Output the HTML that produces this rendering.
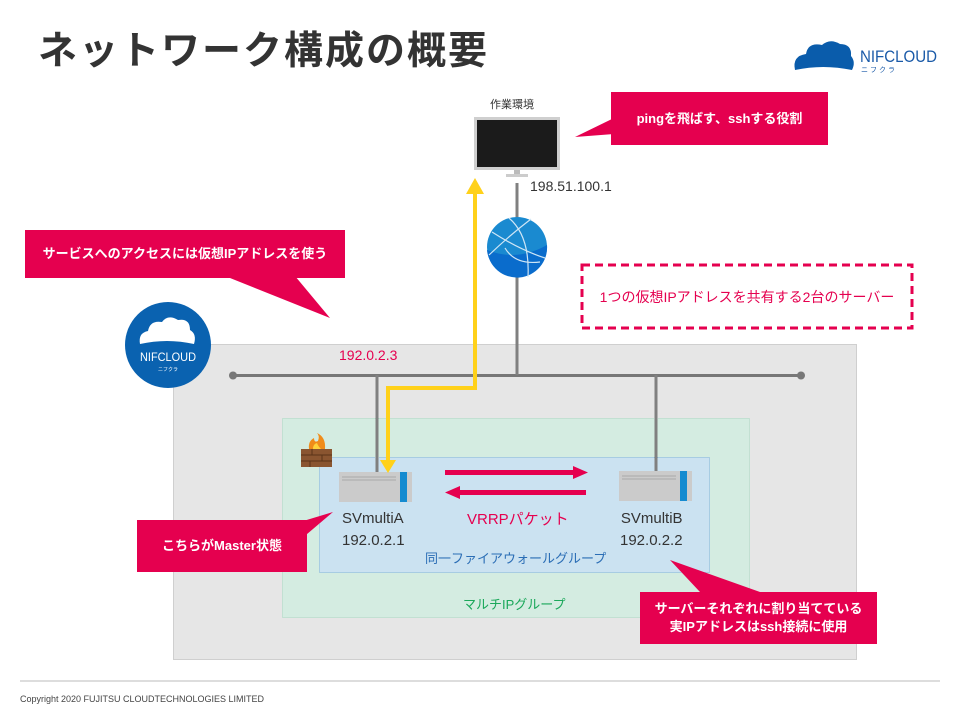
<!DOCTYPE html>
<html><head><meta charset="utf-8"><style>
body{margin:0;width:960px;height:720px;background:#fff;overflow:hidden;font-family:"Liberation Sans","Noto Sans CJK JP",sans-serif;position:relative}
.a{position:absolute}
.cb{position:absolute;background:#e5004f;color:#fff;font-weight:bold;font-size:13px;display:flex;align-items:center;justify-content:center;text-align:center;line-height:18px}
</style></head><body>
<div class="a" style="left:38px;top:20px;font-size:39px;font-weight:bold;color:#333;letter-spacing:2px">ネットワーク構成の概要</div>

<svg class="a" style="left:0;top:0" width="960" height="720">
<path d="M795 70 Q792 56 806 54 Q808 42 822 45 Q830 38 840 44 Q852 44 851 56 Q856 62 852 70 Q823 64 795 70Z" fill="#0a5cab"/>
<text x="860" y="62" font-family="Liberation Sans,sans-serif" font-size="17" fill="#1a5aa8" textLength="77" lengthAdjust="spacingAndGlyphs">NIFCLOUD</text>
<text x="861" y="72" font-family="Noto Sans CJK JP,sans-serif" font-size="7" fill="#1a5aa8" letter-spacing="2">ニフクラ</text>

<rect x="173.5" y="344.5" width="683" height="315" fill="#e6e6e6" stroke="#cfcfcf"/>
<rect x="282.5" y="418.5" width="467" height="199" fill="#d4ece1" stroke="#a8d8c0" stroke-dasharray="1 1"/>
<rect x="319.5" y="457.5" width="390" height="115" fill="#cbe2f1" stroke="#7fb0dc" stroke-dasharray="1 1"/>

<circle cx="168" cy="345" r="43" fill="#0a62b0"/>
<path d="M140 344 Q138 333 148 331 Q150 320 162 322 Q168 314 178 320 Q190 318 190 330 Q197 334 194 344 Q167 338 140 344Z" fill="#fff"/>
<text x="168" y="361" text-anchor="middle" font-size="12" fill="#fff" font-family="Liberation Sans,sans-serif" textLength="56" lengthAdjust="spacingAndGlyphs">NIFCLOUD</text>
<text x="168" y="371" text-anchor="middle" font-size="5" fill="#fff" font-family="Noto Sans CJK JP,sans-serif">ニフクラ</text>

<line x1="233" y1="375.5" x2="801" y2="375.5" stroke="#777" stroke-width="3"/>
<circle cx="233" cy="375.5" r="4" fill="#777"/><circle cx="801" cy="375.5" r="4" fill="#777"/>
<line x1="517" y1="183" x2="517" y2="375" stroke="#808080" stroke-width="3"/>
<line x1="377" y1="375" x2="377" y2="472" stroke="#808080" stroke-width="3"/>
<line x1="656" y1="375" x2="656" y2="472" stroke="#808080" stroke-width="3"/>

<circle cx="517" cy="247" r="30" fill="#1a8ad0"/>
<path d="M487 250 Q517 262 547 245 A30 30 0 0 1 487 250Z" fill="#0a6ccc"/>
<g stroke="#cfe6f6" stroke-width="1.2" fill="none">
<path d="M489 255 Q510 235 531 219"/><path d="M509 218 Q530 236 528 277"/><path d="M492 232 Q520 250 545 258"/><path d="M505 248 Q515 265 540 262"/>
</g>

<rect x="474" y="117" width="86" height="53" fill="#cfcfcf"/>
<rect x="477" y="120" width="80" height="47" fill="#1b1b1b"/>
<rect x="514" y="170" width="6" height="5" fill="#bbb"/><rect x="506" y="174" width="22" height="3" fill="#ccc"/>

<rect x="339" y="472" width="73" height="30" fill="#cbcbcb"/>
<rect x="400" y="472" width="7" height="30" fill="#158bd0"/>
<line x1="342" y1="477" x2="396" y2="477" stroke="#aaa"/><line x1="342" y1="480" x2="396" y2="480" stroke="#aaa"/>
<rect x="619" y="471" width="73" height="30" fill="#cbcbcb"/>
<rect x="680" y="471" width="7" height="30" fill="#158bd0"/>
<line x1="622" y1="476" x2="676" y2="476" stroke="#aaa"/><line x1="622" y1="479" x2="676" y2="479" stroke="#aaa"/>

<rect x="301" y="449" width="31" height="18" fill="#8a5530"/>
<g stroke="#5a3318" stroke-width="1"><line x1="301" y1="455" x2="332" y2="455"/><line x1="301" y1="461" x2="332" y2="461"/><line x1="312" y1="449" x2="312" y2="455"/><line x1="322" y1="455" x2="322" y2="461"/><line x1="310" y1="461" x2="310" y2="467"/></g>
<path d="M309 449 Q308 441 314 438 Q314 443 318 441 Q320 436 317 433 Q326 437 325 449Z" fill="#f08c1a"/>
<path d="M313 449 Q313 444 317 443 Q318 446 321 449Z" fill="#ffd23a"/>

<polyline points="475,192 475,388 388,388 388,462" fill="none" stroke="#ffd11a" stroke-width="4"/>
<polygon points="466,194 484,194 475,178" fill="#ffd11a"/>
<polygon points="380,460 396,460 388,473" fill="#ffd11a"/>

<rect x="445" y="470" width="130" height="5" fill="#e5004f"/><polygon points="573,466 588,472.5 573,479" fill="#e5004f"/>
<rect x="458" y="490" width="128" height="5" fill="#e5004f"/><polygon points="460,486 445,492.5 460,499" fill="#e5004f"/>

<polygon points="614,118 614,134 575,137" fill="#e5004f"/>
<polygon points="210,270 290,270 330,318" fill="#e5004f"/>
<polygon points="300,522 300,540 333,512" fill="#e5004f"/>
<polygon points="670,560 700,592 760,592" fill="#e5004f"/>

<rect x="582" y="265" width="330" height="63" fill="#fff" stroke="#e5004f" stroke-width="3" stroke-dasharray="8 5"/>

<line x1="20" y1="681" x2="940" y2="681" stroke="#ddd" stroke-width="2"/>
</svg>

<div class="cb" style="left:611px;top:92px;width:217px;height:53px">pingを飛ばす、sshする役割</div>
<div class="cb" style="left:25px;top:230px;width:320px;height:48px">サービスへのアクセスには仮想IPアドレスを使う</div>
<div class="cb" style="left:137px;top:520px;width:170px;height:52px">こちらがMaster状態</div>
<div class="cb" style="left:640px;top:592px;width:237px;height:52px">サーバーそれぞれに割り当てている<br>実IPアドレスはssh接続に使用</div>

<div class="a" style="left:582px;top:265px;width:330px;height:63px;display:flex;align-items:center;justify-content:center;color:#e5004f;font-size:14px">1つの仮想IPアドレスを共有する2台のサーバー</div>

<div class="a" style="left:490px;top:96px;font-size:11px;color:#333">作業環境</div>
<div class="a" style="left:530px;top:178px;font-size:14px;color:#333">198.51.100.1</div>
<div class="a" style="left:339px;top:347px;font-size:14px;color:#e5004f">192.0.2.3</div>
<div class="a" style="left:342px;top:508px;font-size:15px;color:#333;line-height:22px">SVmultiA<br>192.0.2.1</div>
<div class="a" style="left:620px;top:508px;font-size:15px;color:#333;line-height:22px;text-align:right">SVmultiB<br>192.0.2.2</div>
<div class="a" style="left:467px;top:508px;font-size:15px;color:#e5004f">VRRPパケット</div>
<div class="a" style="left:425px;top:548px;font-size:13px;color:#2a6db5">同一ファイアウォールグループ</div>
<div class="a" style="left:463px;top:594px;font-size:13px;color:#1aa85a">マルチIPグループ</div>
<div class="a" style="left:20px;top:694px;font-size:9px;color:#444">Copyright 2020 FUJITSU CLOUDTECHNOLOGIES LIMITED</div>
</body></html>
